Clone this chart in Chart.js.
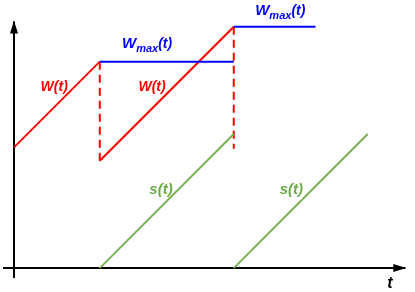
<!DOCTYPE html>
<html>
<head>
<meta charset="utf-8">
<script src="https://cdn.jsdelivr.net/npm/chart.js@4.4.1/dist/chart.umd.min.js"></script>
<style>
  html, body { margin: 0; padding: 0; background: #fff; }
  #wrap { width: 415px; height: 292px; }
</style>
</head>
<body>
<div id="wrap"><canvas id="myChart" width="415" height="292"></canvas></div>
<script>
// Datos (unidades del dibujo, pendiente 1)
const tiempoW1 = [0, 6.4];
const ventanaW1 = [9, 15.4];
const tiempoW2 = [6.4, 16.4];
const ventanaW2 = [8, 18];

const tiempoCaida1 = [6.4, 6.4];
const ventanaCaida1 = [15.4, 8];
const tiempoCaida2 = [16.4, 16.4];
const ventanaCaida2 = [18, 8.9];

const tiempoWmax1 = [6.4, 16.4];
const valorWmax1 = [15.4, 15.4];
const tiempoWmax2 = [16.4, 22.5];
const valorWmax2 = [18, 18];

const tiempoS1 = [6.4, 16.4];
const valorS1 = [0, 10];
const tiempoS2 = [16.4, 26.4];
const valorS2 = [0, 10];

// ejes con flecha
const ejeXt = [-0.82, 29.2];
const ejeXy = [0, 0];
const ejeYt = [0, 0];
const ejeYy = [-0.75, 18.4];

// etiquetas
const etiquetas = [
  { texto: 'W(t)', t: 3.0, y: 13.5, color: '#ff0000' },
  { texto: 'W(t)', t: 10.3, y: 13.5, color: '#ff0000' },
  { texto: 's(t)', t: 10.97, y: 5.8, color: '#6aab45', size: 15 },
  { texto: 's(t)', t: 20.7, y: 5.8, color: '#6aab45', size: 15 },
  { texto: 't', t: 28.06, y: -1.19, color: '#000000', size: 16 }
];
const etiquetasWmax = [
  { t: 8.06, y: 16.4 },
  { t: 18.0, y: 18.9 }
];

const puntos = (xs, ys) => xs.map((x, i) => ({ x: x, y: ys[i] }));

function linea(xs, ys, color, ancho, dash) {
  return {
    data: puntos(xs, ys),
    borderColor: color,
    backgroundColor: color,
    borderWidth: ancho,
    borderDash: dash || [],
    pointRadius: 0,
    showLine: true,
    fill: false,
    tension: 0
  };
}

const rojo = '#ff0000';
const azul = '#0000ff';
const verde = '#70ad47';

const datasets = [
  linea(tiempoWmax1, valorWmax1, azul, 2),
  linea(tiempoWmax2, valorWmax2, azul, 2),
  linea(tiempoS1, valorS1, verde, 1.8),
  linea(tiempoS2, valorS2, verde, 1.8),
  linea(tiempoCaida1, ventanaCaida1, rojo, 2, [8, 5]),
  linea(tiempoCaida2, ventanaCaida2, rojo, 2, [8, 5]),
  linea(tiempoW1, ventanaW1, rojo, 2),
  linea(tiempoW2, ventanaW2, rojo, 2),
  Object.assign(linea(ejeXt, ejeXy, '#000', 2), { flecha: true }),
  Object.assign(linea(ejeYt, ejeYy, '#000', 2), { flecha: true })
];

// flechas de los ejes y textos
const dibujos = {
  id: 'dibujos',
  afterDatasetsDraw(chart) {
    const ctx = chart.ctx;
    const sx = chart.scales.x;
    const sy = chart.scales.y;
    ctx.save();
    chart.data.datasets.forEach((ds, i) => {
      if (!ds.flecha) return;
      const pts = chart.getDatasetMeta(i).data;
      const a = pts[pts.length - 2], b = pts[pts.length - 1];
      const ang = Math.atan2(b.y - a.y, b.x - a.x);
      const largo = 12, medio = 4;
      ctx.fillStyle = '#000';
      ctx.beginPath();
      ctx.moveTo(b.x + Math.cos(ang), b.y + Math.sin(ang));
      ctx.lineTo(b.x - largo * Math.cos(ang) - medio * Math.sin(ang), b.y - largo * Math.sin(ang) + medio * Math.cos(ang));
      ctx.lineTo(b.x - largo * Math.cos(ang) + medio * Math.sin(ang), b.y - largo * Math.sin(ang) - medio * Math.cos(ang));
      ctx.closePath();
      ctx.fill();
    });

    ctx.textBaseline = 'middle';
    ctx.textAlign = 'center';
    etiquetas.forEach(e => {
      ctx.font = 'italic bold ' + (e.size || 14) + 'px "Liberation Sans", Arial, sans-serif';
      ctx.fillStyle = e.color;
      ctx.fillText(e.texto, sx.getPixelForValue(e.t), sy.getPixelForValue(e.y));
    });

    ctx.textBaseline = 'alphabetic';
    ctx.textAlign = 'left';
    ctx.fillStyle = azul;
    etiquetasWmax.forEach(e => {
      let x = sx.getPixelForValue(e.t);
      const y = sy.getPixelForValue(e.y);
      ctx.font = 'italic bold 15px "Liberation Sans", Arial, sans-serif';
      ctx.fillText('W', x, y);
      x += ctx.measureText('W').width;
      ctx.font = 'italic bold 11px "Liberation Sans", Arial, sans-serif';
      ctx.fillText('max', x, y + 4);
      x += ctx.measureText('max').width;
      ctx.font = 'italic bold 14px "Liberation Sans", Arial, sans-serif';
      ctx.fillText('(t)', x, y);
    });
    ctx.restore();
  }
};

const myChart = new Chart(document.getElementById('myChart'), {
  type: 'scatter',
  data: { datasets: datasets },
  options: {
    responsive: false,
    animation: false,
    layout: { padding: 0 },
    scales: {
      x: { type: 'linear', min: -1.045, max: 29.925, display: false },
      y: { type: 'linear', min: -1.79, max: 20, display: false }
    },
    plugins: {
      legend: { display: false },
      tooltip: { enabled: false }
    }
  },
  plugins: [dibujos]
});
</script>
</body>
</html>
